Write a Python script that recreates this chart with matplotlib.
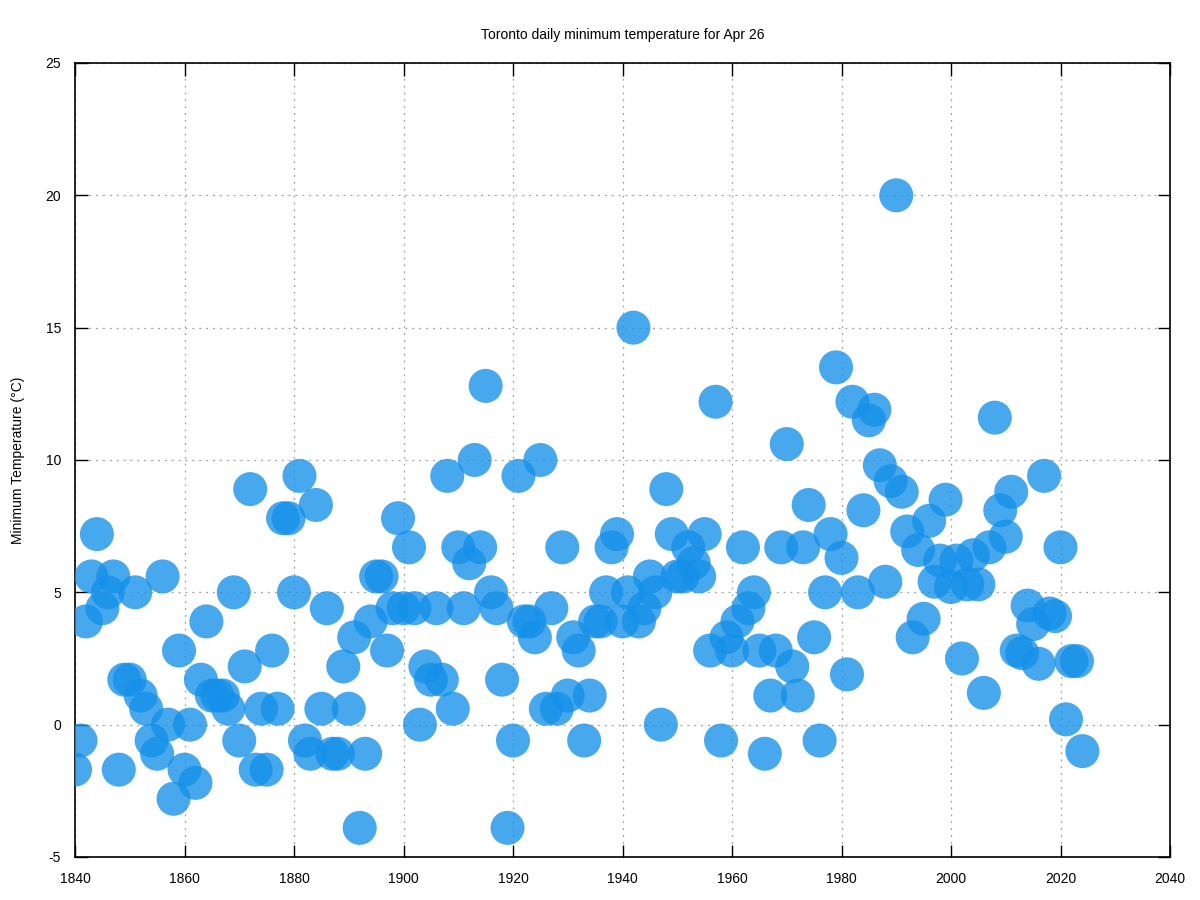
import matplotlib
matplotlib.use('Agg')
import matplotlib.pyplot as plt

plt.rcParams['font.family'] = ['Liberation Sans', 'DejaVu Sans']
plt.rcParams['axes.unicode_minus'] = False

# minimum temperature on Apr 26, one value per year 1840-2024
years = list(range(1840, 2025))
temps = [
    -1.7, -0.6, 3.9, 5.6, 7.2, 4.4, 5.0, 5.6, -1.7, 1.7,      # 1840s
    1.7, 5.0, 1.1, 0.6, -0.6, -1.1, 5.6, 0.0, -2.8, 2.8,      # 1850s
    -1.7, 0.0, -2.2, 1.7, 3.9, 1.1, 1.1, 1.1, 0.6, 5.0,       # 1860s
    -0.6, 2.2, 8.9, -1.7, 0.6, -1.7, 2.8, 0.6, 7.8, 7.8,      # 1870s
    5.0, 9.4, -0.6, -1.1, 8.3, 0.6, 4.4, -1.1, -1.1, 2.2,     # 1880s
    0.6, 3.3, -3.9, -1.1, 3.9, 5.6, 5.6, 2.8, 4.4, 7.8,       # 1890s
    4.4, 6.7, 4.4, 0.0, 2.2, 1.7, 4.4, 1.7, 9.4, 0.6,         # 1900s
    6.7, 4.4, 6.1, 10.0, 6.7, 12.8, 5.0, 4.4, 1.7, -3.9,      # 1910s
    -0.6, 9.4, 3.9, 3.9, 3.3, 10.0, 0.6, 4.4, 0.6, 6.7,       # 1920s
    1.1, 3.3, 2.8, -0.6, 1.1, 3.9, 3.9, 5.0, 6.7, 7.2,        # 1930s
    3.9, 5.0, 15.0, 3.9, 4.4, 5.6, 5.0, 0.0, 8.9, 7.2,        # 1940s
    5.6, 5.6, 6.7, 6.1, 5.6, 7.2, 2.8, 12.2, -0.6, 3.3,       # 1950s
    2.8, 3.9, 6.7, 4.4, 5.0, 2.8, -1.1, 1.1, 2.8, 6.7,        # 1960s
    10.6, 2.2, 1.1, 6.7, 8.3, 3.3, -0.6, 5.0, 7.2, 13.5,      # 1970s
    6.3, 1.9, 12.2, 5.0, 8.1, 11.5, 11.9, 9.8, 5.4, 9.2,      # 1980s
    20.0, 8.8, 7.3, 3.3, 6.6, 4.0, 7.7, 5.4, 6.2, 8.5,        # 1990s
    5.2, 6.2, 2.5, 5.3, 6.4, 5.3, 1.2, 6.7, 11.6, 8.1,        # 2000s
    7.1, 8.8, 2.8, 2.7, 4.5, 3.8, 2.3, 9.4, 4.2, 4.1,         # 2010s
    6.7, 0.2, 2.4, 2.4, -1.0,                                 # 2020s
]

x_ticks = list(range(1840, 2041, 20))
y_ticks = list(range(-5, 26, 5))

fig = plt.figure(figsize=(12, 9), dpi=100)
ax = fig.add_axes([0.0625, 0.0478, 0.9125, 0.8822])

ax.scatter(years, temps, s=600, color='#1490ea', alpha=0.78,
           edgecolors='none', zorder=3)

ax.set_xlim(1840, 2040)
ax.set_ylim(-5, 25)
ax.set_xticks(x_ticks)
ax.set_yticks(y_ticks)
ax.tick_params(direction='in', length=9, width=1, top=True, right=True,
               labelsize=10, colors='black')
ax.tick_params(axis='x', pad=11)
ax.tick_params(axis='y', pad=10)
ax.grid(True, color='#a0a0a0', linestyle=(0, (1.5, 4)), linewidth=0.9)
for sp in ax.spines.values():
    sp.set_linewidth(1.2)

ax.set_title('Toronto daily minimum temperature for Apr 26', fontsize=10, pad=17)
fig.text(18 / 1200, 1 - 460 / 900, 'Minimum Temperature (°C)', fontsize=10,
         rotation=90, ha='center', va='center')

fig.savefig('out.png', dpi=100)
